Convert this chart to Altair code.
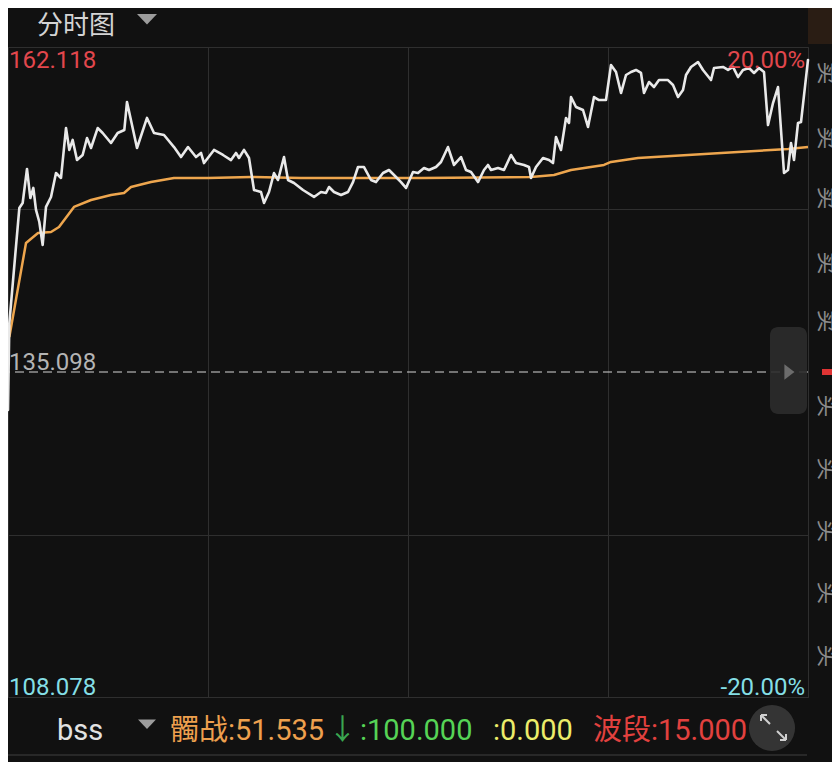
import altair as alt
import pandas as pd

# ---------------- data ----------------
minutes = [0, 0.4, 3.4, 4.4, 5.7, 6.7, 7.6, 8.4, 9.4, 10.4,
           11.4, 12.9, 14.4, 15.9, 17.4, 18.4, 19.4, 20.7, 22.4, 23.7,
           24.9, 26.9, 28.4, 30.9, 32.9, 34.9, 35.7, 38.7, 41.7, 43.8,
           46.8, 49.8, 51.9, 54.0, 56.4, 57.9, 58.8, 61.8, 64.5, 66.9,
           68.4, 69.3, 70.8, 72.3, 73.8, 75.9, 76.8, 78.3, 79.8, 81.0,
           82.8, 84.0, 85.8, 88.5, 91.8, 93.9, 95.4, 96.3, 97.8, 99.9,
           102.0, 103.5, 105.0, 106.8, 108.9, 110.4, 112.5, 114.3, 116.4, 117.9,
           119.4, 121.5, 123.0, 124.8, 126.3, 128.4, 129.9, 132.0, 133.8, 135.9,
           137.4, 138.9, 141.0, 142.8, 144.0, 144.9, 147.0, 148.8, 150.9, 152.4,
           154.8, 156.3, 156.9, 158.4, 160.5, 162.3, 163.5, 164.4, 165.9, 167.4,
           168.3, 168.9, 170.4, 172.5, 174.0, 175.8, 177.3, 179.4, 180.9, 182.4,
           183.9, 185.4, 186.9, 188.4, 189.9, 190.8, 192.3, 193.8, 195.3, 198.0,
           199.5, 201.0, 202.5, 203.4, 204.9, 207.0, 208.5, 210.9, 211.8, 214.5,
           216.0, 217.5, 219.0, 220.5, 222.3, 223.8, 225.3, 226.8, 228.0, 229.5,
           231.0, 232.8, 234.0, 234.9, 235.8, 237.0, 237.9, 240.0]

prices = [131.94, 139.17, 148.73, 149.15, 151.98, 149.56, 150.40, 148.57, 147.57, 145.66,
          148.82, 149.65, 151.64, 151.23, 155.38, 153.56, 154.39, 152.72, 153.14, 154.55,
          153.72, 155.38, 154.97, 154.14, 154.97, 155.22, 157.55, 153.72, 156.22, 154.97,
          154.80, 153.80, 152.97, 153.80, 152.97, 153.31, 152.47, 153.56, 153.14, 152.72,
          153.31, 152.89, 153.56, 152.89, 150.23, 150.06, 149.15, 150.06, 151.64, 151.06,
          152.97, 151.06, 150.81, 150.23, 149.65, 150.06, 149.98, 150.48, 150.06, 149.81,
          150.06, 150.89, 152.14, 152.14, 151.06, 150.89, 151.64, 151.89, 151.31, 150.89,
          150.40, 151.73, 151.64, 152.06, 151.89, 152.14, 152.56, 153.80, 152.31, 152.97,
          151.89, 151.73, 150.89, 151.89, 152.31, 151.89, 152.06, 151.89, 153.14, 152.47,
          152.31, 152.14, 151.23, 152.14, 152.89, 152.72, 152.47, 154.64, 153.56, 156.22,
          155.80, 157.96, 157.13, 156.88, 155.47, 157.96, 157.71, 157.71, 160.62, 160.04,
          158.29, 159.79, 160.04, 160.21, 159.96, 158.29, 159.21, 158.79, 159.37, 159.37,
          158.96, 157.96, 158.54, 159.79, 160.46, 160.87, 160.21, 159.37, 160.37, 160.46,
          160.21, 160.46, 159.62, 160.21, 160.37, 159.96, 160.37, 160.04, 155.63, 157.46,
          158.79, 151.64, 151.89, 154.14, 152.72, 155.80, 155.88, 161.04]

avg_minutes = [0.4, 5.4, 9.0, 12.9, 15.3, 19.8, 24.9, 30.9, 34.8, 36.9,
               42.9, 49.8, 60.0, 72.9, 87.9, 108.0, 123.9, 156.9, 163.8, 168.9,
               178.8, 180.9, 189.0, 204.0, 219.0, 234.0, 240.0]
avg_prices = [138.01, 145.82, 146.65, 146.74, 147.15, 148.82, 149.40, 149.81, 149.98, 150.48,
              150.89, 151.23, 151.23, 151.31, 151.23, 151.23, 151.23, 151.31, 151.48, 151.89,
              152.31, 152.56, 152.89, 153.14, 153.39, 153.64, 153.80]

PREV_CLOSE = 135.098
HIGH = 162.118
LOW = 108.078
grid_prices = [108.078, 121.588, 148.608, 162.118]
grid_minutes = [0, 60, 120, 180, 240]

top_labels = ["162.118", "20.00%"]
mid_label = "135.098"
bottom_labels = ["108.078", "-20.00%"]
title_text = "分时图"
ind_name = "bss"
ind_parts = ["髑战:51.535", "↓", ":100.000", ":0.000", "波段:15.000"]
sell_glyph = "卖"
buy_glyph = "买"

# ---------------- styles ----------------
BG = "#111111"
GRID = "#2f2f2f"
WHITE = "#e9e9e9"
ORANGE = "#eea64e"
RED = "#e2474d"
CYAN = "#84dfe6"
FONT = "Roboto, 'Noto Sans CJK SC'"
CJK = "'Noto Sans CJK SC'"

price_df = pd.DataFrame({"t": minutes, "p": prices})
avg_df = pd.DataFrame({"t": avg_minutes, "p": avg_prices})
ref_df = pd.DataFrame({"p": [PREV_CLOSE]})
dummy = pd.DataFrame({"d": [0]})

x_scale = alt.Scale(domain=[0, 240], nice=False, zero=False)
y_scale = alt.Scale(domain=[LOW, HIGH], nice=False, zero=False)
x_axis = alt.Axis(values=grid_minutes, grid=True, labels=False, ticks=False,
                  domain=False, title=None, gridColor=GRID, gridWidth=1)
y_axis = alt.Axis(values=grid_prices, grid=True, labels=False, ticks=False,
                  domain=False, title=None, gridColor=GRID, gridWidth=1)
x_enc = alt.X("t:Q", scale=x_scale, axis=x_axis)
y_enc = alt.Y("p:Q", scale=y_scale, axis=y_axis)

avg_line = alt.Chart(avg_df).mark_line(
    color=ORANGE, strokeWidth=2.5, strokeJoin="round"
).encode(x=x_enc, y=y_enc)

price_line = alt.Chart(price_df).mark_line(
    color=WHITE, strokeWidth=2.6, strokeJoin="round", strokeCap="round"
).encode(x=x_enc, y=y_enc)

ref_rule = alt.Chart(ref_df).mark_rule(
    color="#d6d6d6", strokeWidth=1.2, strokeDash=[9, 5]
).encode(y=y_enc)


def label(text, x, y, color, size, align="left", font=FONT, baseline="alphabetic", angle=0):
    return alt.Chart(dummy).mark_text(
        text=text, align=align, baseline=baseline, font=font,
        fontSize=size, color=color, angle=angle
    ).encode(x=alt.value(x), y=alt.value(y))


def seg(x, y, x2, y2, color, width=1.0):
    return alt.Chart(dummy).mark_rule(color=color, strokeWidth=width).encode(
        x=alt.value(x), y=alt.value(y), x2=alt.value(x2), y2=alt.value(y2))


def box(x, y, x2, y2, color, radius=0, opacity=1.0):
    return alt.Chart(dummy).mark_rect(
        color=color, cornerRadius=radius, opacity=opacity
    ).encode(x=alt.value(x), y=alt.value(y), x2=alt.value(x2), y2=alt.value(y2))


def shape(path, x, y, size, color, opacity=1.0):
    return alt.Chart(dummy).mark_point(
        shape=path, filled=True, size=size, color=color, opacity=opacity, strokeWidth=0
    ).encode(x=alt.value(x), y=alt.value(y))


TRI_DOWN = "M-1,-0.5L1,-0.5L0,0.55Z"
TRI_RIGHT = "M-0.6,-1L0.7,0L-0.6,1Z"

layers = [
    ref_rule,
    avg_line,
    price_line,
    # price labels
    label(top_labels[0], 1, 21, RED, 24),
    label(top_labels[1], 797, 21, RED, 24, align="right"),
    label(mid_label, 1, 323, "#b4b4b4", 24),
    label(bottom_labels[0], 1, 648, CYAN, 24),
    label(bottom_labels[1], 797, 648, CYAN, 24, align="right"),
    # header
    label(title_text, 29, -13, "#d4d4d4", 26, font=CJK),
    shape(TRI_DOWN, 139, -28, 400, "#9c9c9c"),
    box(800, -47, 826, -3, "#2a1d14"),
    # side panel button
    box(762, 280, 799, 367, "#2c2c2c", radius=8, opacity=0.9),
    shape(TRI_RIGHT, 781, 325, 240, "#6c6c6c"),
    # red marker on right strip
    box(814, 322, 826, 328, "#e03434"),
    # indicator header row
    seg(-1, 708, 799, 708, "#303030", 1.5),
    label(ind_name, 49, 693, "#e2e2e2", 29),
    shape(TRI_DOWN, 139, 677, 324, "#9c9c9c"),
    label(ind_parts[0], 162, 693, "#eea04e", 29),
    label(ind_parts[1], 320, 693, "#3aa650", 29),
    label(ind_parts[2], 352, 693, "#56d456", 29),
    label(ind_parts[3], 485, 693, "#ecec6a", 29),
    label(ind_parts[4], 585, 693, "#e2413f", 29),
    shape("circle", 764, 681, 2120, "#383838", opacity=0.9),
    seg(753, 668, 762, 677, "#d0d0d0", 2),
    seg(753, 668, 759, 668, "#d0d0d0", 2),
    seg(753, 668, 753, 674, "#d0d0d0", 2),
    seg(769, 684, 778, 693, "#d0d0d0", 2),
    seg(778, 693, 772, 693, "#d0d0d0", 2),
    seg(778, 693, 778, 687, "#d0d0d0", 2),
]

# rotated order-book glyphs on the right strip (clipped at the edge, as in the app)
for yy in [26, 91, 151, 216, 274]:
    layers.append(label(sell_glyph, 819, yy, "#8c8c8c", 23, align="center",
                        font=CJK, baseline="middle", angle=90))
for yy in [359, 422, 484, 546, 609]:
    layers.append(label(buy_glyph, 819, yy, "#8c8c8c", 23, align="center",
                        font=CJK, baseline="middle", angle=90))

chart = alt.layer(*layers).properties(
    width=800,
    height=650,
    autosize=alt.AutoSizeParams(type="none"),
    padding={"left": 0, "top": 39, "right": 24, "bottom": 65},
    background=BG,
).configure_view(stroke=GRID, strokeWidth=1)

chart.save("out.html", embed_options={"renderer": "svg", "actions": False})
